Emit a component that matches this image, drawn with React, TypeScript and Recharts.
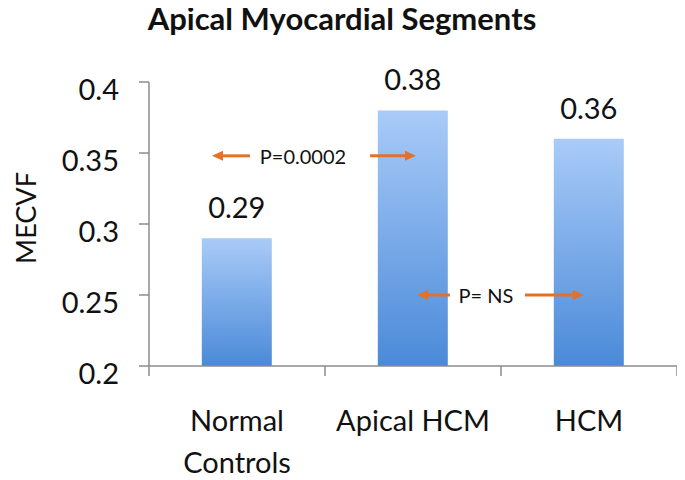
import React from "react";
import {
  Bar,
  BarChart,
  LabelList,
  ReferenceDot,
  ReferenceLine,
  XAxis,
  YAxis,
} from "recharts";

const categories = ["Normal\nControls", "Apical HCM", "HCM"];
const values = [0.29, 0.38, 0.36];
const yTicks = [0.2, 0.25, 0.3, 0.35, 0.4];

// annotation arrows on a hidden 0..3 axis (one unit per category)
const arrows = [
  { from: 0.574, to: 0.358, y: 0.348 },
  { from: 1.256, to: 1.517, y: 0.348 },
  { from: 1.71, to: 1.523, y: 0.25 },
  { from: 2.136, to: 2.47, y: 0.25 },
];
const pLabels = [
  { text: "P=0.0002", x: 0.875, y: 0.348 },
  { text: "P= NS", x: 1.915, y: 0.25 },
];
const boundaries = [0, 1, 2, 3];

const data = categories.map((name, i) => ({ name, value: values[i], pos: i + 0.5 }));

const FONT = "Lato, 'Open Sans', sans-serif";
const AXIS = "#8c8c8c";
const ORANGE = "#e5702a";

function ArrowShape(props: any) {
  const { x1, y1, x2, y2 } = props;
  const dir = x2 > x1 ? 1 : -1;
  const tip = x2;
  const base = tip - dir * 11;
  return (
    <g>
      <line x1={x1} y1={y1} x2={base} y2={y2} stroke={ORANGE} strokeWidth={3} />
      <polygon
        points={`${tip},${y2} ${base},${y2 - 5} ${base},${y2 + 5}`}
        fill={ORANGE}
      />
    </g>
  );
}

function BoundaryTick(props: any) {
  const { x1, y1, y2 } = props;
  const bottom = Math.max(y1, y2);
  return <line x1={x1} y1={bottom} x2={x1} y2={bottom + 10} stroke={AXIS} strokeWidth={1.5} />;
}

function YTick({ x, y, payload }: any) {
  return (
    <text x={x} y={y} dy={18} textAnchor="end" fill="#111" fontSize={29} fontFamily={FONT}>
      {payload.value}
    </text>
  );
}

function XTick({ x, y, payload }: any) {
  const lines = String(payload.value).split("\n");
  return (
    <text x={x} y={y + 57} textAnchor="middle" fill="#111" fontSize={29} fontFamily={FONT}>
      {lines.map((l, i) => (
        <tspan key={i} x={x} dy={i === 0 ? 0 : 42}>
          {l}
        </tspan>
      ))}
    </text>
  );
}

function YLabel({ viewBox }: any) {
  const cy = viewBox.y + viewBox.height / 2 - 6;
  return (
    <text
      x={17}
      y={cy}
      transform={`rotate(-90 17 ${cy})`}
      textAnchor="middle"
      dominantBaseline="central"
      fill="#111"
      fontSize={27}
      fontFamily={FONT}
    >
      MECVF
    </text>
  );
}

export default function App() {
  return (
    <div style={{ position: "relative", width: 677, height: 472, background: "#fff" }}>
      <div
        style={{
          position: "absolute",
          top: -9,
          left: 0,
          width: 668,
          textAlign: "center",
          fontFamily: FONT,
          fontWeight: 700,
          fontSize: 31,
          color: "#111",
        }}
      >
        Apical Myocardial Segments
      </div>
      <BarChart
        width={677}
        height={472}
        data={data}
        margin={{ top: 74, right: 8, left: 0, bottom: 14 }}
        barCategoryGap="30%"
      >
        <defs>
          <linearGradient id="barGrad" x1="0" y1="0" x2="0" y2="1">
            <stop offset="0%" stopColor="#a9cbf8" />
            <stop offset="100%" stopColor="#4b8ad8" />
          </linearGradient>
        </defs>
        <XAxis
          dataKey="name"
          height={100}
          axisLine={{ stroke: AXIS, strokeWidth: 1.5 }}
          tickLine={false}
          interval={0}
          tick={<XTick />}
        />
        <XAxis
          xAxisId="num"
          dataKey="pos"
          type="number"
          domain={[0, 3]}
          allowDataOverflow
          padding={{ left: 0, right: 0 }}
          hide
        />
        <YAxis
          domain={[0.2, 0.4]}
          ticks={yTicks}
          width={141}
          tickSize={10}
          tickMargin={20}
          axisLine={{ stroke: AXIS, strokeWidth: 1.5 }}
          tickLine={{ stroke: AXIS, strokeWidth: 1.5 }}
          tick={<YTick />}
          label={<YLabel />}
        />
        <Bar dataKey="value" fill="url(#barGrad)" isAnimationActive={false}>
          <LabelList
            dataKey="value"
            position="top"
            offset={20}
            fill="#111"
            fontSize={29}
            fontFamily={FONT}
          />
        </Bar>
        {boundaries.map((b) => (
          <ReferenceLine key={`b${b}`} xAxisId="num" x={b} shape={<BoundaryTick />} />
        ))}
        {arrows.map((a, i) => (
          <ReferenceLine
            key={`a${i}`}
            xAxisId="num"
            segment={[
              { x: a.from, y: a.y },
              { x: a.to, y: a.y },
            ]}
            shape={<ArrowShape />}
          />
        ))}
        {pLabels.map((p) => (
          <ReferenceDot
            key={p.text}
            xAxisId="num"
            x={p.x}
            y={p.y}
            r={0}
            shape={(s: any) => (
              <text
                x={s.cx}
                y={s.cy}
                textAnchor="middle"
                dominantBaseline="central"
                fill="#111"
                fontSize={20}
                fontFamily={FONT}
              >
                {p.text}
              </text>
            )}
          />
        ))}
      </BarChart>
    </div>
  );
}
